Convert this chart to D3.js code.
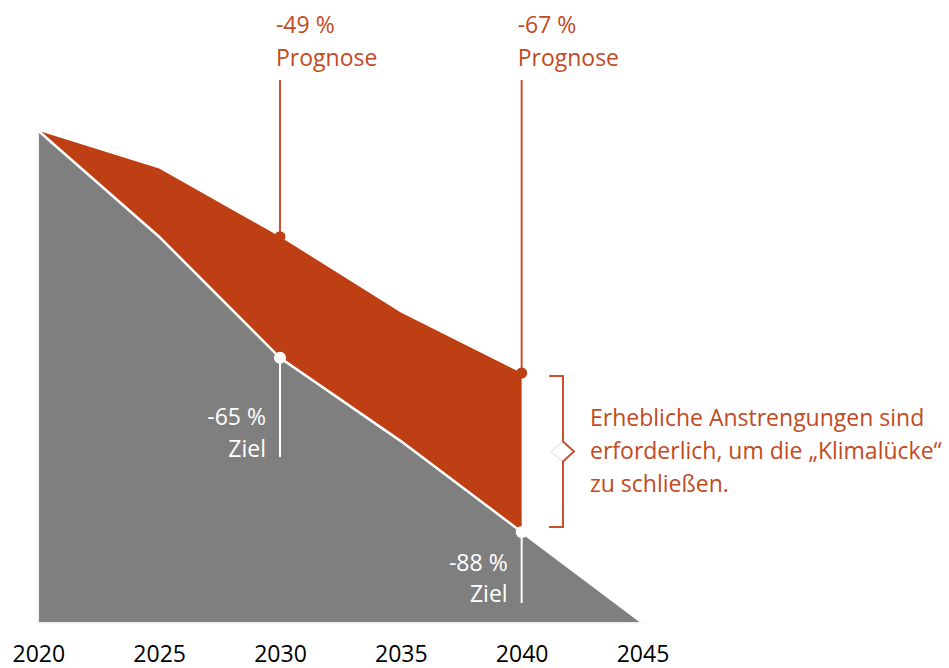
<!DOCTYPE html>
<html>
<head>
<meta charset="utf-8">
<script src="https://cdn.jsdelivr.net/npm/d3@7"></script>
<style>
	body { margin: 0; background: #fff; }
	svg { display: block; font-family: 'Open Sans', sans-serif; }
</style>
</head>
<body>
<div class="chart"></div>
<script>
// emissions change vs. 1990, in %
const years = [2020, 2025, 2030, 2035, 2040, 2045]
const target = [-35, -49, -65, -76, -88, -100]
const prognosisYears = [2020, 2025, 2030, 2035, 2040]
const prognosis = [-35, -40, -49, -59, -67]

const prognosisNotes = [
	{ year: 2030, value: -49, label: '-49 %', sub: 'Prognose' },
	{ year: 2040, value: -67, label: '-67 %', sub: 'Prognose' },
]
const targetNotes = [
	{ year: 2030, value: -65, label: '-65 %', sub: 'Ziel' },
	{ year: 2040, value: -88, label: '-88 %', sub: 'Ziel' },
]
const gapText = ['Erhebliche Anstrengungen sind', 'erforderlich, um die \u201EKlimalücke\u201C', 'zu schließen.']

const width = 949
const height = 668
const fontSize = '23px'

const red = '#bf3f14'
const redText = '#c24a22'
const redLine = '#c9512f'
const grey = '#7f7f7f'

const scaleX = d3.scaleLinear().domain([2020, 2045]).range([38.3, 642.5])
const scaleY = d3.scaleLinear().domain([-100, -30]).range([622.8, 92.9])

const svg = d3.select('.chart')
	.append('svg')
	.attr('width', width)
	.attr('height', height)

const targetData = years.map((y, i) => ({ year: y, value: target[i] }))
const gapData = prognosisYears.map((y, i) => ({ year: y, top: prognosis[i], bottom: target[i] }))

// grey target area
const greyArea = d3.area()
	.x(d => scaleX(d.year))
	.y0(scaleY(-100))
	.y1(d => scaleY(d.value))

svg.append('path')
	.datum(targetData)
	.attr('d', greyArea)
	.attr('fill', grey)
	.attr('stroke', '#ededed')
	.attr('stroke-width', 1.5)

// red gap area
const gapArea = d3.area()
	.x(d => scaleX(d.year))
	.y0(d => scaleY(d.bottom))
	.y1(d => scaleY(d.top))

svg.append('path')
	.datum(gapData)
	.attr('d', gapArea)
	.attr('fill', red)

// white target line
const line = d3.line()
	.x(d => scaleX(d.year))
	.y(d => scaleY(d.value))

svg.append('path')
	.datum(targetData)
	.attr('d', line)
	.attr('fill', 'none')
	.attr('stroke', '#fff')
	.attr('stroke-width', 2.5)

// prognosis annotations
const pg = svg.append('g').selectAll('g')
	.data(prognosisNotes)
	.join('g')

pg.append('line')
	.attr('x1', d => scaleX(d.year))
	.attr('x2', d => scaleX(d.year))
	.attr('y1', 80)
	.attr('y2', d => scaleY(d.value))
	.attr('stroke', redLine)
	.attr('stroke-width', 2)

pg.append('circle')
	.attr('cx', d => scaleX(d.year))
	.attr('cy', d => scaleY(d.value))
	.attr('r', 5.5)
	.attr('fill', red)

pg.append('text')
	.attr('x', d => scaleX(d.year) - 4)
	.attr('y', 33)
	.attr('fill', redText)
	.style('font-size', fontSize)
	.text(d => d.label)

pg.append('text')
	.attr('x', d => scaleX(d.year) - 4)
	.attr('y', 66)
	.attr('fill', redText)
	.style('font-size', fontSize)
	.text(d => d.sub)

// target annotations
const tg = svg.append('g').selectAll('g')
	.data(targetNotes)
	.join('g')

tg.append('line')
	.attr('x1', d => scaleX(d.year))
	.attr('x2', d => scaleX(d.year))
	.attr('y1', d => scaleY(d.value))
	.attr('y2', (d, i) => i === 0 ? 457 : 603)
	.attr('stroke', '#fff')
	.attr('stroke-width', 2)

tg.append('circle')
	.attr('cx', d => scaleX(d.year))
	.attr('cy', d => scaleY(d.value))
	.attr('r', 6)
	.attr('fill', '#fff')

tg.append('text')
	.attr('x', d => scaleX(d.year) - 14)
	.attr('y', (d, i) => i === 0 ? 425 : 571)
	.attr('text-anchor', 'end')
	.attr('fill', '#fff')
	.style('font-size', fontSize)
	.text(d => d.label)

tg.append('text')
	.attr('x', d => scaleX(d.year) - 14)
	.attr('y', (d, i) => i === 0 ? 457 : 602)
	.attr('text-anchor', 'end')
	.attr('fill', '#fff')
	.style('font-size', fontSize)
	.text(d => d.sub)

// bracket for the gap
const bTop = scaleY(-67) + 3
const bBot = scaleY(-88) - 5
const bMid = (bTop + bBot) / 2
const bx = 563

svg.append('path')
	.attr('d', `M${bx},${bMid - 10} L${bx - 12},${bMid} L${bx},${bMid + 10}`)
	.attr('fill', 'none')
	.attr('stroke', '#e4e4e4')
	.attr('stroke-width', 1.2)

svg.append('path')
	.attr('d', `M${bx - 14},${bTop} H${bx} V${bMid - 10} L${bx + 11},${bMid} L${bx},${bMid + 10} V${bBot} H${bx - 14}`)
	.attr('fill', 'none')
	.attr('stroke', redLine)
	.attr('stroke-width', 2)

svg.append('g').selectAll('text')
	.data(gapText)
	.join('text')
	.attr('x', 590)
	.attr('y', (d, i) => 426 + i * 33)
	.attr('fill', redText)
	.style('font-size', fontSize)
	.text(d => d)

// x axis
const axis = svg.append('g')
	.attr('transform', 'translate(0, 646)')
	.call(d3.axisBottom(scaleX).tickValues(years).tickFormat(d3.format('d')).tickSize(0).tickPadding(0))

axis.select('.domain').remove()
axis.selectAll('text')
	.attr('fill', '#000')
	.style('font-size', fontSize)
	.style('font-family', "'Open Sans', sans-serif")
</script>
</body>
</html>
